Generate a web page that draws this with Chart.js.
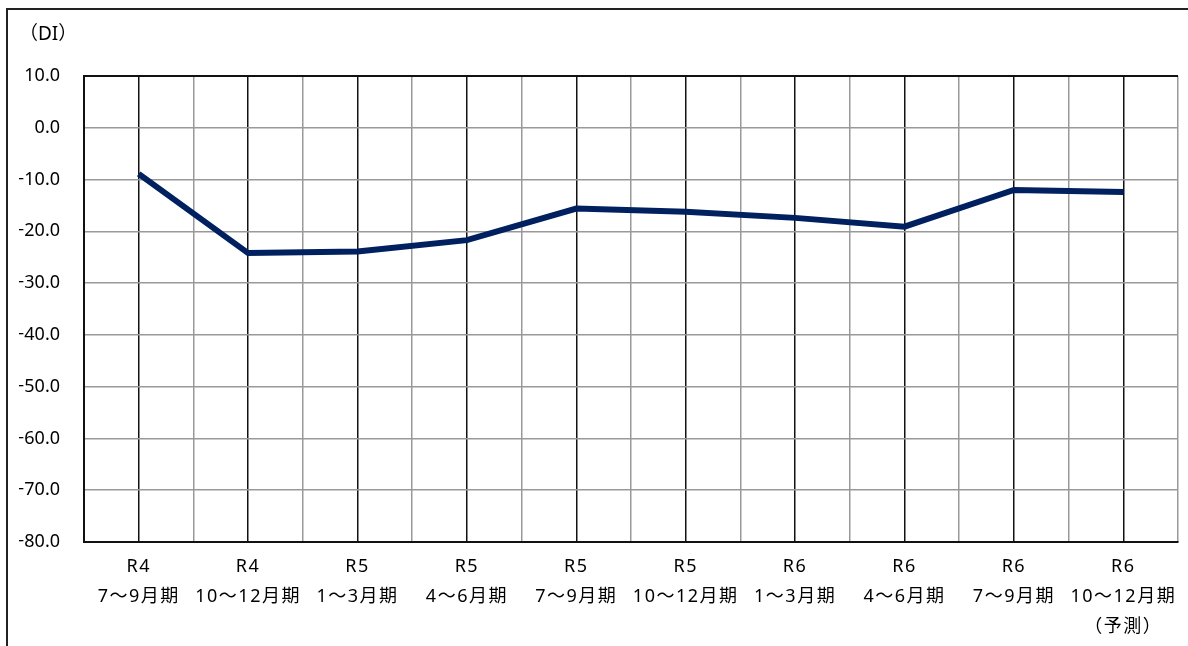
<!DOCTYPE html>
<html lang="ja">
<head>
<meta charset="utf-8">
<title>DI推移</title>
<script src="https://cdn.jsdelivr.net/npm/chart.js@4/dist/chart.umd.min.js"></script>
<style>
  html, body { margin: 0; padding: 0; background: #fff; }
  #wrap { position: relative; width: 1188px; height: 646px; overflow: hidden; }
  #frame { position: absolute; left: 6px; top: 8px; width: 1200px; height: 700px;
           border-top: 2px solid #222; border-left: 2px solid #222; }
  canvas { position: absolute; left: 0; top: 0; }
</style>
</head>
<body>
<div id="wrap">
  <div id="frame"></div>
  <canvas id="c" width="1188" height="646"></canvas>
</div>
<script>
// 期区分（年度・四半期）
const periods = [
  ['R4', '7〜9月期'],
  ['R4', '10〜12月期'],
  ['R5', '1〜3月期'],
  ['R5', '4〜6月期'],
  ['R5', '7〜9月期'],
  ['R5', '10〜12月期'],
  ['R6', '1〜3月期'],
  ['R6', '4〜6月期'],
  ['R6', '7〜9月期'],
  ['R6', '10〜12月期', '（予測）']
];

// 業況DI
const diValues = [-8.9, -24.2, -23.9, -21.7, -15.6, -16.2, -17.4, -19.1, -12.0, -12.4];

// 縦軸の範囲と目盛
const yMin = -80;
const yMax = 10;
const yStep = 10;

const fontFamily = "'Noto Sans', 'Noto Sans CJK JP', sans-serif";
const GRID_GRAY = '#999999';
const GRID_BLACK = '#111111';
const PAD_LEFT = 19;

// 横軸ラベルに字間を付ける
const labelSpacing = {
  id: 'labelSpacing',
  beforeDraw(chart) {
    const sc = chart.scales.x;
    if (sc && !sc._spaced) {
      const base = Object.getPrototypeOf(sc).drawLabels;
      sc.drawLabels = function (area) {
        const ctx = this.ctx;
        ctx.save();
        ctx.letterSpacing = '1.5px';
        base.call(this, area);
        ctx.restore();
      };
      sc._spaced = true;
    }
  }
};

new Chart(document.getElementById('c'), {
  type: 'line',
  data: {
    labels: periods,
    datasets: [{
      data: diValues,
      borderColor: '#002060',
      borderWidth: 6,
      pointRadius: 0,
      pointHoverRadius: 0,
      tension: 0,
      fill: false,
      borderCapStyle: 'butt',
      borderJoinStyle: 'miter'
    }]
  },
  options: {
    responsive: false,
    animation: false,
    events: [],
    layout: { padding: { left: PAD_LEFT, right: 10, top: 0, bottom: 0 } },
    plugins: {
      legend: { display: false },
      tooltip: { enabled: false },
      title: {
        display: true,
        text: '（DI）',
        align: 'start',
        color: '#000',
        font: { family: fontFamily, size: 19, weight: 'normal' },
        padding: { top: 23.6, bottom: 29.6 }
      }
    },
    scales: {
      x: {
        type: 'category',
        offset: true,
        grid: {
          offset: false,
          color: GRID_BLACK,
          lineWidth: 1.5,
          drawTicks: false
        },
        border: { display: true, color: GRID_BLACK, width: 2 },
        ticks: {
          color: '#000',
          font: { family: fontFamily, size: 18, lineHeight: 1.667 },
          padding: 10,
          maxRotation: 0,
          autoSkip: false
        },
        afterFit(scale) { scale.height = 104; }
      },
      xb: {
        type: 'category',
        position: 'bottom',
        offset: true,
        labels: periods.map(p => p[0]),
        grid: {
          offset: true,
          drawTicks: false,
          lineWidth: 1.5,
          color: (ctx) => (ctx.index === 0 || ctx.index === periods.length) ? GRID_BLACK : GRID_GRAY
        },
        border: { display: false },
        ticks: { display: false },
        afterFit(scale) { scale.height = 0; }
      },
      y: {
        min: yMin,
        max: yMax,
        grid: {
          drawTicks: false,
          lineWidth: (ctx) => (ctx.tick && (ctx.tick.value === yMin || ctx.tick.value === yMax)) ? 2 : 1.5,
          color: (ctx) => (ctx.tick && (ctx.tick.value === yMin || ctx.tick.value === yMax)) ? GRID_BLACK : GRID_GRAY
        },
        border: { display: true, color: GRID_BLACK, width: 2 },
        ticks: {
          stepSize: yStep,
          color: '#000',
          padding: 24,
          font: { family: fontFamily, size: 18 },
          callback: (v) => (v < 0 ? '\u2212' + Math.abs(v).toFixed(1) : Number(v).toFixed(1))
        },
        afterFit(scale) { scale.width = 84 - PAD_LEFT; }
      }
    }
  },
  plugins: [labelSpacing]
});
</script>
</body>
</html>
